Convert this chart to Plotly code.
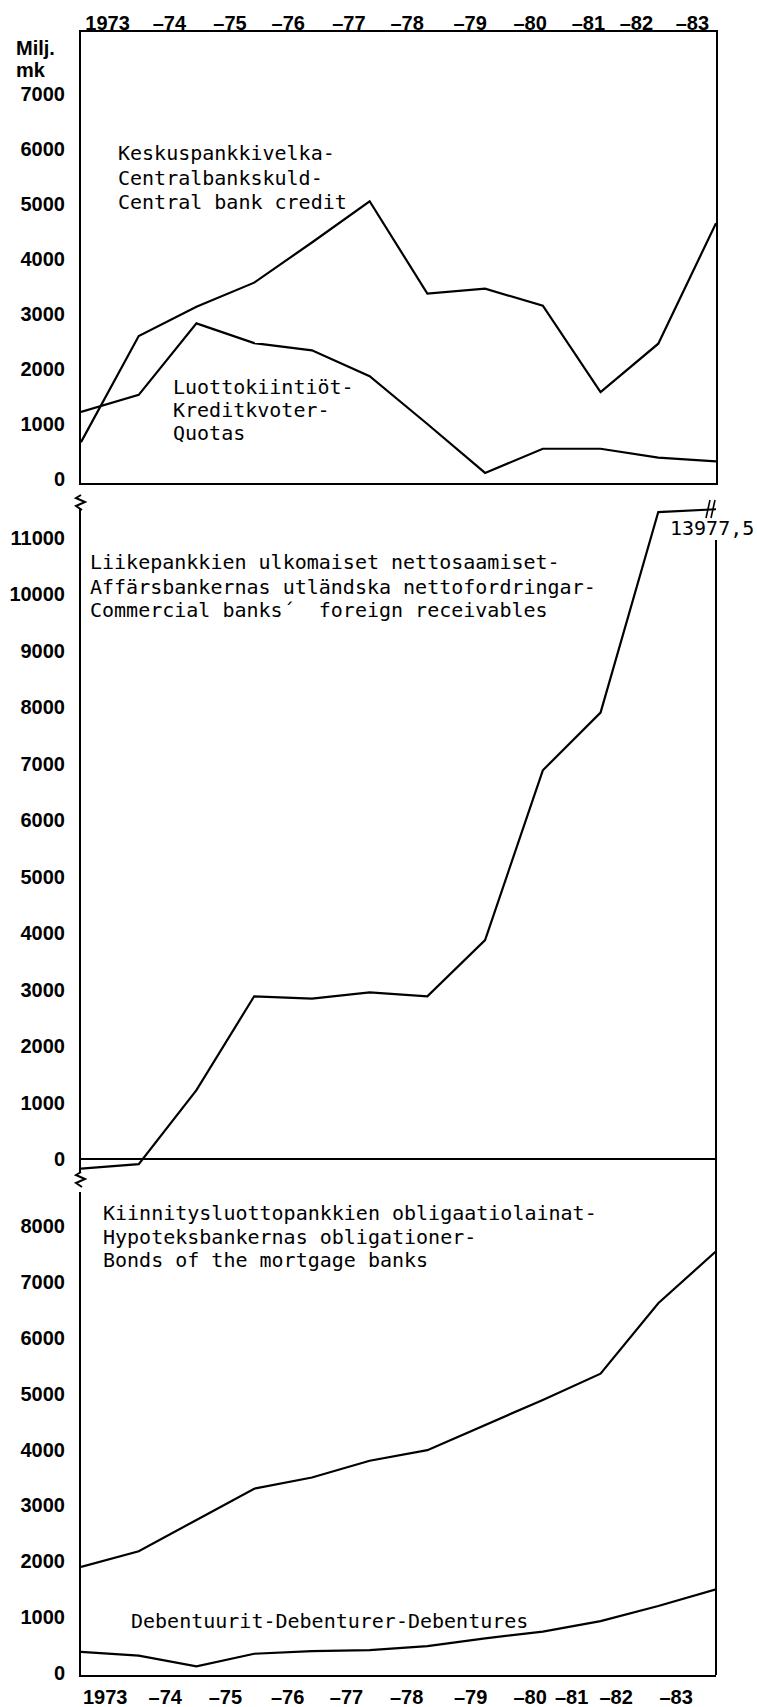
import plotly.graph_objects as go

# ---------------- data (Milj. mk) ----------------
year_end = [1972, 1973, 1974, 1975, 1976, 1977, 1978, 1979, 1980, 1981, 1982, 1983]

central_bank_credit = [670, 2600, 3130, 3570, 4300, 5050, 3370, 3460, 3150, 1580, 2460, 4650]
credit_quotas = [1220, 1530, 2830, 2470, 2340, 1870, 1000, 110, 550, 550, 390, 320]

foreign_receivables = [-170, -90, 1220, 2880, 2840, 2950, 2880, 3875, 6880, 7900, 11450, 13977.5]
break_value = 11500          # the chart breaks its scale here (marked with a double slash)

mortgage_bonds = [1900, 2180, 2740, 3300, 3500, 3800, 3990, 4440, 4890, 5360, 6620, 7550]
debentures = [380, 310, 120, 345, 390, 410, 480, 620, 740, 930, 1200, 1500]

year_labels = ["1973", "–74", "–75", "–76", "–77", "–78", "–79", "–80", "–81", "–82", "–83"]
top_label_pos = [0.46, 1.53, 2.58, 3.59, 4.64, 5.65, 6.74, 7.78, 8.79, 9.62, 10.59]
bottom_label_pos = [0.42, 1.46, 2.50, 3.58, 4.60, 5.64, 6.75, 7.78, 8.50, 9.27, 10.31]

top_ticks = [0, 1000, 2000, 3000, 4000, 5000, 6000, 7000]
mid_ticks = [0, 1000, 2000, 3000, 4000, 5000, 6000, 7000, 8000, 9000, 10000, 11000]
bot_ticks = [0, 1000, 2000, 3000, 4000, 5000, 6000, 7000, 8000]

# ---------------- layout geometry (pixels) ----------------
W, H = 757, 1707
LEFT, RIGHT = 81, 716
PW = RIGHT - LEFT


def px_x(px):
    return (px - LEFT) / PW


def px_y(py):
    return 1 - py / H


def y_range(p):
    return [(p["y0"] - p["ybot"]) / p["s"] * 1000, (p["y0"] - p["ytop"]) / p["s"] * 1000]


def ydom(p):
    return [px_y(p["ybot"]), px_y(p["ytop"])]


panels = {
    "top": dict(ytop=32, ybot=483, y0=479, s=55.0),
    "mid": dict(ytop=508, ybot=1172, y0=1159, s=56.5),
    "bot": dict(ytop=1192, ybot=1675, y0=1673, s=55.85),
}

xpos = [y - year_end[0] for y in year_end]
foreign_drawn = [min(v, break_value) for v in foreign_receivables]

LINE = dict(color="black", width=2.2)
TICKFONT = dict(family="Liberation Sans, Arial, sans-serif", size=20, color="black", weight="bold")
TEXTFONT = dict(family="DejaVu Sans Mono, Liberation Mono, monospace", size=20, color="black")

fig = go.Figure()
fig.add_trace(go.Scatter(x=xpos, y=central_bank_credit, mode="lines", line=LINE,
                         xaxis="x", yaxis="y", name="Central bank credit"))
fig.add_trace(go.Scatter(x=xpos, y=credit_quotas, mode="lines", line=LINE,
                         xaxis="x", yaxis="y", name="Quotas"))
fig.add_trace(go.Scatter(x=xpos, y=foreign_drawn, mode="lines", line=LINE,
                         xaxis="x2", yaxis="y2", name="Foreign receivables"))
fig.add_trace(go.Scatter(x=xpos, y=mortgage_bonds, mode="lines", line=LINE,
                         xaxis="x3", yaxis="y3", name="Bonds of the mortgage banks"))
fig.add_trace(go.Scatter(x=xpos, y=debentures, mode="lines", line=LINE,
                         xaxis="x3", yaxis="y3", name="Debentures"))

xr = [0, len(year_end) - 1]
common_x = dict(range=xr, showgrid=False, zeroline=False, fixedrange=True, automargin=False)
common_y = dict(showgrid=False, fixedrange=True, automargin=False, ticks="",
                tickfont=TICKFONT, ticklabelstandoff=10, color="black")

fig.update_layout(
    width=W, height=H,
    margin=dict(l=LEFT, r=W - RIGHT, t=0, b=0),
    paper_bgcolor="white", plot_bgcolor="white",
    showlegend=False,
    xaxis=dict(**common_x, anchor="y", side="top", showline=True, mirror=True,
               linecolor="black", linewidth=2, tickmode="array",
               tickvals=top_label_pos, ticktext=year_labels, ticks="",
               tickfont=TICKFONT, ticklabelstandoff=-8),
    yaxis=dict(**common_y, domain=ydom(panels["top"]), range=y_range(panels["top"]),
               tickmode="array", tickvals=top_ticks, ticktext=[str(t) for t in top_ticks],
               showline=True, mirror=True, linecolor="black", linewidth=2, zeroline=False),
    xaxis2=dict(**common_x, anchor="y2", showline=False, showticklabels=False),
    yaxis2=dict(**common_y, domain=ydom(panels["mid"]), range=y_range(panels["mid"]),
                tickmode="array", tickvals=mid_ticks, ticktext=[str(t) for t in mid_ticks],
                showline=True, linecolor="black", linewidth=2,
                zeroline=True, zerolinecolor="black", zerolinewidth=2),
    xaxis3=dict(**common_x, anchor="y3", showline=True, linecolor="black", linewidth=2,
                tickmode="array", tickvals=bottom_label_pos, ticktext=year_labels, ticks="",
                tickfont=TICKFONT, ticklabelstandoff=3),
    yaxis3=dict(**common_y, domain=ydom(panels["bot"]), range=y_range(panels["bot"]),
                tickmode="array", tickvals=bot_ticks, ticktext=[str(t) for t in bot_ticks],
                showline=True, linecolor="black", linewidth=2, zeroline=False),
)

# ---------------- text labels ----------------
labels = [
    ("Keskuspankkivelka-", 116, 153),
    ("Centralbankskuld-", 116, 178),
    ("Central bank credit", 116, 202),
    ("Luottokiintiöt-", 171, 387),
    ("Kreditkvoter-", 171, 410),
    ("Quotas", 171, 433),
    ("Liikepankkien ulkomaiset nettosaamiset-", 88, 562),
    ("Affärsbankernas utländska nettofordringar-", 88, 587),
    ("Commercial banks´  foreign receivables", 88, 610),
    ("Kiinnitysluottopankkien obligaatiolainat-", 101, 1213),
    ("Hypoteksbankernas obligationer-", 101, 1237),
    ("Bonds of the mortgage banks", 101, 1260),
    ("Debentuurit-Debenturer-Debentures", 129, 1621),
    ("13977,5", 668, 528),
]
for text, x, y in labels:
    fig.add_annotation(text=text, x=px_x(x), y=px_y(y), xref="paper", yref="paper",
                       xanchor="left", yanchor="middle", showarrow=False, font=TEXTFONT)

for text, y in (("Milj.", 48), ("mk", 70)):
    fig.add_annotation(text=text, x=px_x(14), y=px_y(y), xref="paper", yref="paper",
                       xanchor="left", yanchor="middle", showarrow=False, font=TICKFONT)

# ---------------- decorations: right frame, scale breaks ----------------
BLK = dict(color="black", width=2)
fig.add_shape(type="line", xref="paper", yref="paper",
              x0=px_x(RIGHT), x1=px_x(RIGHT), y0=px_y(540), y1=px_y(1675), line=BLK)


def path(points):
    return "M " + " L ".join(f"{px_x(a):.5f},{px_y(b):.5f}" for a, b in points)


for y_start in (495, 1172):
    zig = [(LEFT, y_start), (LEFT - 5, y_start + 3), (LEFT + 4, y_start + 7),
           (LEFT - 5, y_start + 11), (LEFT + 1, y_start + 15)]
    fig.add_shape(type="path", xref="paper", yref="paper", path=path(zig), line=BLK)

for dx in (0, 5):
    fig.add_shape(type="line", xref="paper", yref="paper",
                  x0=px_x(706 + dx), x1=px_x(710 + dx), y0=px_y(518), y1=px_y(500),
                  line=dict(color="black", width=1.6))

fig.write_html("out.html", config={"displayModeBar": False},
               post_script="document.body.style.margin='0px';")
